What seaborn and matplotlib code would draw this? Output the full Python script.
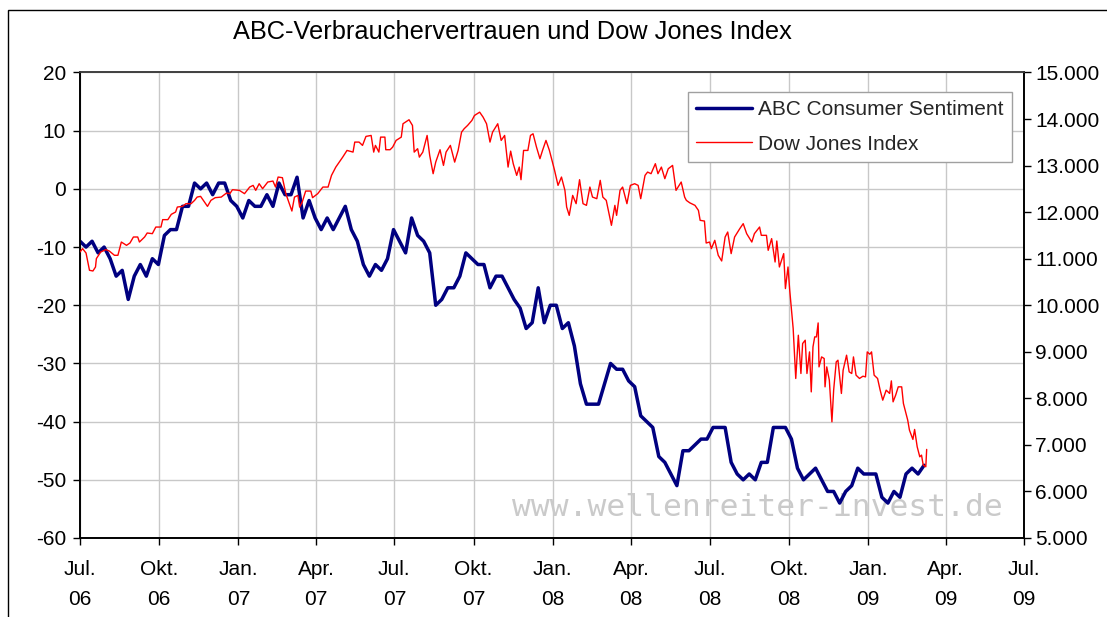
import matplotlib
matplotlib.use("Agg")
import matplotlib.pyplot as plt
from matplotlib.patches import Rectangle
from matplotlib.lines import Line2D
from matplotlib.ticker import FuncFormatter
import seaborn as sns
import pandas as pd

# ---------------- data ----------------
title = "ABC-Verbrauchervertrauen und Dow Jones Index"
abc_label = "ABC Consumer Sentiment"
dow_label = "Dow Jones Index"
watermark = "www.wellenreiter-invest.de"

abc_start = "2006-07-01"
abc_values = [
    -9, -10, -9, -11, -10, -12, -15, -14, -19, -15,
    -13, -15, -12, -13, -8, -7, -7, -3, -3, 1,
    0, 1, -1, 1, 1, -2, -3, -5, -2, -3,
    -3, -1, -3, 1, -1, -1, 2, -5, -2, -5,
    -7, -5, -7, -5, -3, -7, -9, -13, -15, -13,
    -14, -12, -7, -9, -11, -5, -8, -9, -11, -20,
    -19, -17, -17, -15, -11, -12, -13, -13, -17, -15,
    -15, -17, -19, -20.5, -24, -23, -17, -23, -20, -20,
    -24, -23, -27, -33.5, -37, -37, -37, -33.5, -30, -31,
    -31, -33, -34, -39, -40, -41, -46, -47, -49, -51,
    -45, -45, -44, -43, -43, -41, -41, -41, -47, -49,
    -50, -49, -50, -47, -47, -41, -41, -41, -43, -48,
    -50, -49, -48, -50, -52, -52, -54, -52, -51, -48,
    -49, -49, -49, -53, -54, -52, -53, -49, -48, -49,
    -47.5,
]

dow_dates = [
    "2006-07-01", "2006-07-04", "2006-07-08", "2006-07-12", "2006-07-16", "2006-07-19",
    "2006-07-20", "2006-07-25", "2006-07-31", "2006-08-04", "2006-08-10", "2006-08-14",
    "2006-08-18", "2006-08-24", "2006-08-28", "2006-09-01", "2006-09-06", "2006-09-08",
    "2006-09-14", "2006-09-17", "2006-09-23", "2006-09-27", "2006-10-03", "2006-10-05",
    "2006-10-11", "2006-10-15", "2006-10-20", "2006-10-22", "2006-10-28", "2006-11-01",
    "2006-11-07", "2006-11-11", "2006-11-14", "2006-11-18", "2006-11-26", "2006-11-30",
    "2006-12-05", "2006-12-12", "2006-12-18", "2006-12-22", "2006-12-25",
    "2007-01-02", "2007-01-08", "2007-01-14", "2007-01-18", "2007-01-21", "2007-01-25",
    "2007-01-29", "2007-02-04", "2007-02-10", "2007-02-13", "2007-02-16", "2007-02-21",
    "2007-02-25", "2007-03-01", "2007-03-04", "2007-03-07", "2007-03-11", "2007-03-13",
    "2007-03-16", "2007-03-20", "2007-03-26", "2007-03-28", "2007-04-03", "2007-04-09",
    "2007-04-15", "2007-04-19", "2007-04-24", "2007-04-28", "2007-05-02", "2007-05-07",
    "2007-05-14", "2007-05-16", "2007-05-21", "2007-05-25", "2007-05-29", "2007-06-04",
    "2007-06-07", "2007-06-09", "2007-06-13", "2007-06-15", "2007-06-20", "2007-06-21",
    "2007-06-26", "2007-06-29", "2007-07-03", "2007-07-09", "2007-07-11", "2007-07-18",
    "2007-07-22", "2007-07-24", "2007-07-28", "2007-07-30", "2007-08-03", "2007-08-08",
    "2007-08-11", "2007-08-15", "2007-08-18", "2007-08-23", "2007-08-27", "2007-08-30",
    "2007-09-04", "2007-09-09", "2007-09-13", "2007-09-17", "2007-09-20", "2007-09-24",
    "2007-09-29", "2007-10-02", "2007-10-08", "2007-10-12", "2007-10-16", "2007-10-20",
    "2007-10-23", "2007-10-29", "2007-11-02", "2007-11-06", "2007-11-10", "2007-11-13",
    "2007-11-16", "2007-11-20", "2007-11-23", "2007-11-25", "2007-11-28", "2007-12-03",
    "2007-12-06", "2007-12-09", "2007-12-13", "2007-12-17", "2007-12-20", "2007-12-24",
    "2007-12-28",
    "2008-01-03", "2008-01-07", "2008-01-11", "2008-01-15", "2008-01-17", "2008-01-20",
    "2008-01-24", "2008-01-28", "2008-02-01", "2008-02-05", "2008-02-09", "2008-02-13",
    "2008-02-16", "2008-02-21", "2008-02-25", "2008-02-28", "2008-03-03", "2008-03-09",
    "2008-03-13", "2008-03-15", "2008-03-19", "2008-03-22", "2008-03-27", "2008-03-31",
    "2008-04-05", "2008-04-09", "2008-04-12", "2008-04-17", "2008-04-20", "2008-04-24",
    "2008-04-29", "2008-05-02", "2008-05-06", "2008-05-10", "2008-05-14", "2008-05-19",
    "2008-05-23", "2008-05-29", "2008-06-02", "2008-06-04", "2008-06-08", "2008-06-14",
    "2008-06-18", "2008-06-20", "2008-06-25", "2008-06-27", "2008-07-01", "2008-07-03",
    "2008-07-07", "2008-07-11", "2008-07-15", "2008-07-19", "2008-07-22", "2008-07-26",
    "2008-07-30", "2008-08-05", "2008-08-09", "2008-08-13", "2008-08-19", "2008-08-22",
    "2008-08-28", "2008-08-30", "2008-09-05", "2008-09-07", "2008-09-11", "2008-09-15",
    "2008-09-17", "2008-09-20", "2008-09-25", "2008-09-27", "2008-09-30", "2008-10-02",
    "2008-10-06", "2008-10-09", "2008-10-12", "2008-10-15", "2008-10-17", "2008-10-20",
    "2008-10-22", "2008-10-25", "2008-10-27", "2008-10-29", "2008-10-31", "2008-11-02",
    "2008-11-04", "2008-11-05", "2008-11-08", "2008-11-11", "2008-11-12", "2008-11-14",
    "2008-11-17", "2008-11-20", "2008-11-22", "2008-11-25", "2008-11-27", "2008-12-01",
    "2008-12-03", "2008-12-07", "2008-12-10", "2008-12-13", "2008-12-15", "2008-12-18",
    "2008-12-22", "2008-12-26", "2008-12-29", "2008-12-31",
    "2009-01-03", "2009-01-05", "2009-01-08", "2009-01-12", "2009-01-15", "2009-01-18",
    "2009-01-22", "2009-01-26", "2009-01-28", "2009-01-30", "2009-02-02", "2009-02-05",
    "2009-02-09", "2009-02-11", "2009-02-16", "2009-02-18", "2009-02-22", "2009-02-24",
    "2009-02-27", "2009-03-02", "2009-03-04", "2009-03-06", "2009-03-09", "2009-03-10",
]
dow_values = [
    11144, 11216, 11122, 10751, 10736, 10822,
    11002, 11144, 11195, 11165, 11073, 11073,
    11358, 11287, 11337, 11466, 11466, 11358,
    11466, 11552, 11538, 11680, 11680, 11839,
    11839, 11953, 12003, 12110, 12124, 12182,
    12182, 12253, 12324, 12339, 12124, 12253,
    12311, 12324, 12410, 12397, 12482,
    12468, 12397, 12539, 12575, 12468, 12611,
    12504, 12647, 12668, 12539, 12754, 12740,
    12397, 12182, 12024, 12324, 12360, 12110,
    12217, 12453, 12453, 12311, 12397, 12539,
    12539, 12790, 12968, 13075, 13182, 13326,
    13290, 13505, 13505, 13434, 13627, 13648,
    13290, 13434, 13290, 13612, 13612, 13341,
    13341, 13397, 13541, 13612, 13899, 13985,
    13863, 13290, 13363, 13182, 13290, 13648,
    13219, 12826, 13075, 13341, 13004, 13290,
    13434, 13075, 13326, 13719, 13792, 13863,
    13970, 14077, 14148, 14041, 13899, 13505,
    13719, 13899, 13541, 13648, 12968, 13311,
    13041, 12790, 12968, 12697, 13326, 13326,
    13648, 13684, 13397, 13148, 13326, 13541,
    13326,
    12897, 12575, 12754, 12468, 12110, 11931,
    12360, 12182, 12697, 12182, 12146, 12539,
    12324, 12289, 12683, 12324, 12253, 11717,
    12146, 11931, 12468, 12539, 12182, 12575,
    12611, 12575, 12289, 12790, 12861, 12826,
    13041, 12826, 12968, 12719, 12933, 13004,
    12468, 12647, 12324, 12253, 12200, 12146,
    12038, 11824, 11809, 11337, 11358, 11216,
    11395, 11073, 10951, 11466, 11573, 11109,
    11466, 11645, 11753, 11538, 11358, 11538,
    11680, 11502, 11502, 11180, 11431, 10929,
    11380, 10822, 11109, 10358, 10822, 10322,
    9500, 8427, 9356, 8534, 9178, 9249,
    8534, 8998, 8139, 9105, 9320, 9320,
    9620, 8676, 8890, 8856, 8247, 8676,
    8390, 7496, 8176, 8783, 8819, 8105,
    8605, 8927, 8569, 8534, 8890, 8498,
    8427, 8476, 8461, 8998,
    8948, 8998, 8498, 8427, 8176, 7961,
    8176, 8105, 8375, 7925, 8069, 8247,
    8247, 7890, 7532, 7317, 7118, 7332,
    6959, 6744, 6781, 6566, 6530, 6903,
]

x_tick_dates = ["2006-07-01", "2006-10-01", "2007-01-01", "2007-04-01", "2007-07-01",
                "2007-10-01", "2008-01-01", "2008-04-01", "2008-07-01", "2008-10-01",
                "2009-01-01", "2009-04-01", "2009-07-01"]
x_tick_labels = ["Jul.\n06", "Okt.\n06", "Jan.\n07", "Apr.\n07", "Jul.\n07", "Okt.\n07",
                 "Jan.\n08", "Apr.\n08", "Jul.\n08", "Okt.\n08", "Jan.\n09", "Apr.\n09",
                 "Jul.\n09"]
left_ticks = [-60, -50, -40, -30, -20, -10, 0, 10, 20]
right_ticks = [5000, 6000, 7000, 8000, 9000, 10000, 11000, 12000, 13000, 14000, 15000]

# ---------------- frames ----------------
abc_df = pd.DataFrame({
    "date": pd.date_range(abc_start, periods=len(abc_values), freq="7D"),
    "value": abc_values,
})
dow_df = pd.DataFrame({"date": pd.to_datetime(dow_dates), "value": dow_values})

# ---------------- style ----------------
sns.set_theme(style="ticks")
plt.rcParams["font.family"] = ["Liberation Sans", "DejaVu Sans"]

fig = plt.figure(figsize=(11.07, 6.17), dpi=100)
fig.patch.set_facecolor("white")
ax = fig.add_axes([0.07227, 0.12804, 0.85275, 0.75446])
ax2 = ax.twinx()

ABC_COLOR = "#000080"
DOW_COLOR = "#ff0000"

sns.lineplot(data=abc_df, x="date", y="value", ax=ax, color=ABC_COLOR,
             linewidth=2.5, legend=False, zorder=3)
sns.lineplot(data=dow_df, x="date", y="value", ax=ax2, color=DOW_COLOR,
             linewidth=1.0, legend=False, zorder=3)

xt = pd.to_datetime(x_tick_dates)
ax.set_xlim(xt[0], xt[-1])
ax.set_ylim(left_ticks[0], left_ticks[-1])
ax2.set_ylim(right_ticks[0], right_ticks[-1])

ax.set_xticks(xt)
ax.set_xticklabels(x_tick_labels, linespacing=1.75)
ax.set_yticks(left_ticks)
ax.set_yticklabels([str(v) for v in left_ticks])
ax2.set_yticks(right_ticks)
ax2.yaxis.set_major_formatter(FuncFormatter(lambda v, _: f"{int(v):,}".replace(",", ".")))

for a in (ax, ax2):
    a.set_xlabel("")
    a.set_ylabel("")

ax.grid(True, color="#c8c8c8", linewidth=1.0)
ax.set_axisbelow(True)
ax2.grid(False)

ax.tick_params(axis="y", left=True, direction="out", length=5, width=1,
               color="black", pad=5, labelsize=15, labelcolor="black")
ax.tick_params(axis="x", bottom=True, direction="out", length=5, width=1,
               color="black", pad=11, labelsize=15, labelcolor="black")
ax2.tick_params(axis="y", right=True, direction="out", length=5, width=1,
                color="black", pad=3, labelsize=15, labelcolor="black")

for a in (ax, ax2):
    for s in ("left", "bottom", "right"):
        a.spines[s].set_color("black")
        a.spines[s].set_linewidth(1.2)
        a.spines[s].set_visible(True)
    a.spines["top"].set_color("#404040")
    a.spines["top"].set_linewidth(1.2)
    a.spines["top"].set_visible(True)

# watermark beneath the lines (wide, evenly spaced letters)
ax.text(0.718, 0.066, watermark, transform=ax.transAxes, ha="center", va="center",
        fontsize=22.5, family="DejaVu Sans Mono", color="#cacaca", zorder=1)

# legend
handles = [Line2D([0], [0], color=ABC_COLOR, lw=2.5),
           Line2D([0], [0], color=DOW_COLOR, lw=1.0)]
leg = ax2.legend(handles, [abc_label, dow_label], loc="upper right",
                 bbox_to_anchor=(0.987, 0.958), borderaxespad=0, fontsize=15,
                 frameon=True, fancybox=False, shadow=False, handlelength=2.7,
                 handletextpad=0.3, labelspacing=0.75, borderpad=0.38)
leg.get_frame().set_edgecolor("#a0a0a0")
leg.get_frame().set_linewidth(1.0)
leg.get_frame().set_facecolor("white")
leg.get_frame().set_alpha(1.0)

fig.text(0.463, 0.948, title, ha="center", va="center", fontsize=18.3, color="black")

fig.add_artist(Rectangle((8 / 1107, -0.01), 1.1, 1 - 10 / 617 + 0.01,
                         transform=fig.transFigure, fill=False, edgecolor="black",
                         linewidth=1.0))

fig.savefig("out.png", dpi=100, facecolor="white")
